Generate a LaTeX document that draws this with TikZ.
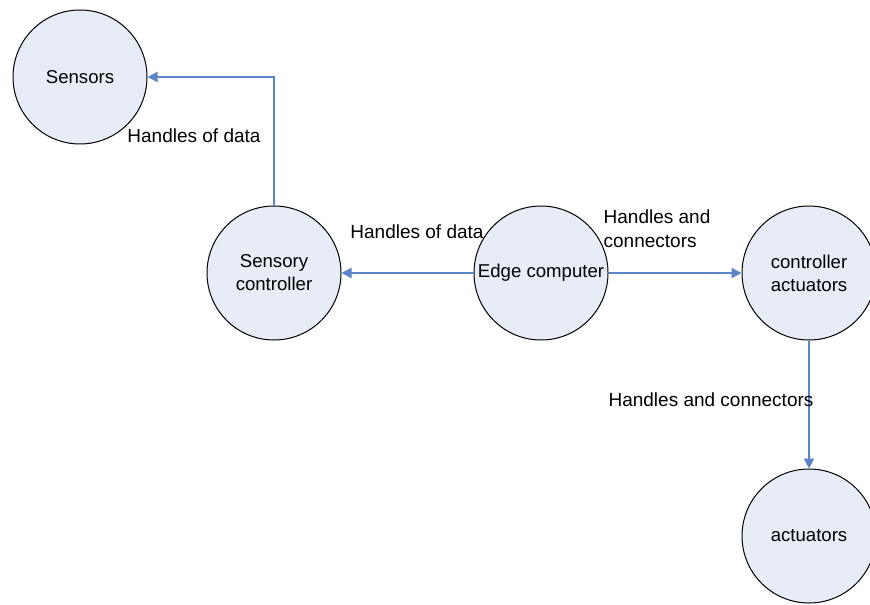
\documentclass[tikz,border=0pt]{standalone}
\usepackage{fontspec}
\setmainfont{Liberation Sans}
\usetikzlibrary{arrows.meta}
\definecolor{discfill}{RGB}{231,236,246}
\definecolor{linkblue}{RGB}{92,132,200}

\begin{document}
\begin{tikzpicture}[x=0.5pt,y=-0.5pt,
  disc/.style={circle,draw=black,line width=0.5pt,fill=discfill,minimum size=67pt,inner sep=0pt,align=center,font=\fontsize{9.3}{11.5}\selectfont},
  link/.style={draw=linkblue,line width=1pt,-{Triangle[length=5pt,width=5pt]}},
  tag/.style={inner sep=0pt,font=\fontsize{9.5}{12}\selectfont}]
\useasboundingbox (0,0) rectangle (870,604);
\node[disc] (sen) at (80,77) {Sensors};
\node[disc] (snc) at (274,273) {Sensory\\controller};
\node[disc] (edg) at (541,273) {Edge computer};
\node[disc] (cac) at (809,273) {controller\\actuators};
\node[disc] (act) at (809,536) {actuators};
\draw[link] (snc.north) |- (sen.east);
\draw[link] (edg.west) -- (snc.east);
\draw[link] (edg.east) -- (cac.west);
\draw[link] (cac.south) -- (act.north);
\node[tag] (t1) at (194,136) {Handles of data};
\node[tag] (t2) at (417,232) {Handles of data};
\node[tag,align=left] (t3) at (657,229) {Handles and\\connectors};
\node[tag] (t4) at (711,400) {Handles and connectors};
\end{tikzpicture}
\end{document}
